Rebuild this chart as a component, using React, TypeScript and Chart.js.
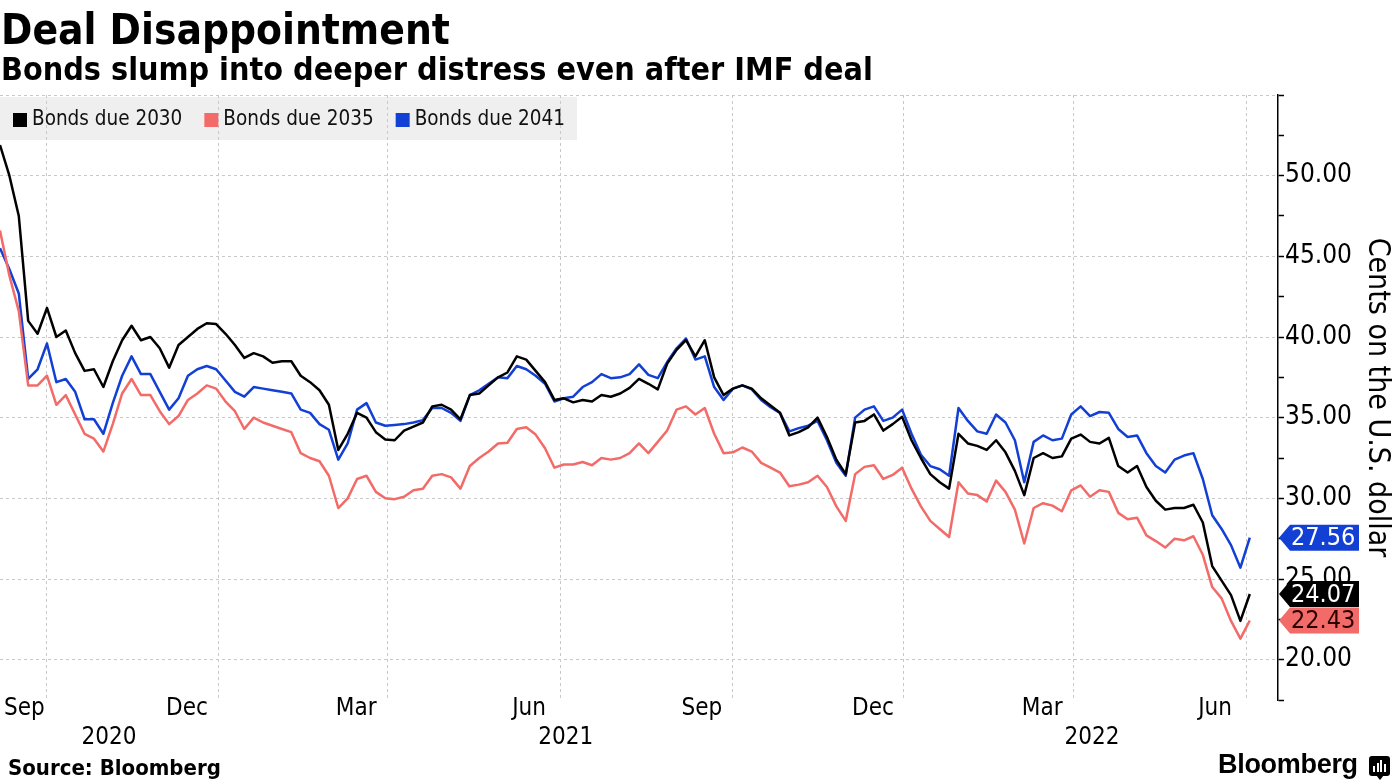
import React, { useEffect, useRef } from "react";
import { Chart, registerables } from "chart.js";
Chart.register(...registerables);

const FONT = "'DejaVu Sans Condensed', 'DejaVu Sans', sans-serif";
const W = 1395;
const H = 784;
const GRID = "#c9c9c9";

// x positions: days relative to 1 Sep 2020, one sample every 5 days
const START_DAY = -25;
const STEP_DAYS = 5;

const bonds2030 = [
  51.9, 50.0, 47.5, 41.0, 40.2, 41.8, 40.0, 40.4, 39.0, 37.9,
  38.0, 36.9, 38.5, 39.8, 40.7, 39.8, 40.0, 39.3, 38.1, 39.5,
  40.0, 40.5, 40.85, 40.8, 40.2, 39.5, 38.7, 39.0, 38.8, 38.4,
  38.5, 38.5, 37.6, 37.2, 36.7, 35.8, 33.0, 34.0, 35.3, 35.0,
  34.1, 33.65, 33.6, 34.2, 34.45, 34.7, 35.7, 35.8, 35.5, 34.9,
  36.4, 36.5, 37.0, 37.5, 37.8, 38.8, 38.6, 37.9, 37.2, 36.1,
  36.2, 35.95, 36.1, 36.0, 36.4, 36.3, 36.5, 36.85, 37.4, 37.1,
  36.75, 38.35, 39.2, 39.8, 38.8, 39.8, 37.5, 36.4, 36.8, 37.0,
  36.8, 36.2, 35.75, 35.3, 33.9, 34.1, 34.4, 35.0, 33.8, 32.4,
  31.5, 34.7, 34.8, 35.2, 34.2, 34.6, 35.05, 33.6, 32.5, 31.5,
  31.0, 30.6, 34.0, 33.4, 33.25, 33.0, 33.6, 32.85, 31.7, 30.2,
  32.5, 32.8, 32.5, 32.6, 33.7, 33.95, 33.5, 33.4, 33.75, 32.0,
  31.6, 32.0, 30.7, 29.85, 29.3, 29.4, 29.4, 29.6, 28.5, 25.8,
  24.9, 24.0, 22.4, 24.07,
];

const bonds2035 = [
  46.6, 43.8, 41.6, 37.0, 37.0, 37.6, 35.8, 36.4, 35.2, 34.0,
  33.7, 32.9, 34.6, 36.5, 37.4, 36.4, 36.4, 35.4, 34.6, 35.1,
  36.1, 36.5, 37.0, 36.8, 36.0, 35.4, 34.3, 35.0, 34.7, 34.5,
  34.3, 34.1, 32.8, 32.5, 32.3, 31.4, 29.4, 30.0, 31.2, 31.4,
  30.4, 30.0, 29.95, 30.1, 30.5, 30.6, 31.4, 31.5, 31.3, 30.6,
  32.0, 32.5, 32.9, 33.4, 33.45, 34.3, 34.4, 33.95, 33.1, 31.9,
  32.1, 32.1, 32.25, 32.05, 32.5, 32.4, 32.5, 32.8, 33.4, 32.8,
  33.5, 34.2, 35.5, 35.7, 35.2, 35.6, 34.0, 32.8, 32.85, 33.15,
  32.9, 32.2, 31.9, 31.6, 30.75, 30.85, 31.0, 31.4, 30.7, 29.5,
  28.6, 31.5, 31.95, 32.05, 31.2, 31.45, 31.9, 30.6, 29.5, 28.6,
  28.1, 27.6, 31.0, 30.3, 30.2, 29.8, 31.1, 30.4, 29.3, 27.2,
  29.4, 29.7, 29.55, 29.2, 30.5, 30.8, 30.1, 30.5, 30.4, 29.1,
  28.7, 28.8, 27.7, 27.35, 26.95, 27.5, 27.4, 27.65, 26.5, 24.5,
  23.8, 22.4, 21.3, 22.43,
];

const bonds2041 = [
  45.5, 44.2, 42.7, 37.4, 38.0, 39.6, 37.2, 37.4, 36.6, 34.9,
  34.9, 34.0, 35.9, 37.6, 38.8, 37.7, 37.7, 36.6, 35.5, 36.2,
  37.6, 38.0, 38.2, 38.0, 37.3, 36.6, 36.3, 36.9, 36.8, 36.7,
  36.6, 36.5, 35.5, 35.3, 34.6, 34.25, 32.4, 33.4, 35.5, 35.9,
  34.7, 34.5, 34.55, 34.6, 34.7, 34.85, 35.6, 35.6, 35.3, 34.8,
  36.4, 36.7, 37.1, 37.5, 37.45, 38.2, 38.0, 37.6, 37.1, 36.0,
  36.2, 36.3, 36.9, 37.2, 37.7, 37.45, 37.5, 37.7, 38.3, 37.65,
  37.45, 38.45, 39.3, 39.9, 38.6, 38.8, 36.9, 36.1, 36.8, 37.0,
  36.75, 36.1, 35.65, 35.3, 34.15, 34.35, 34.5, 34.8, 33.6, 32.2,
  31.4, 35.0, 35.5, 35.7, 34.8, 35.0, 35.5, 34.0, 32.7, 32.0,
  31.8, 31.4, 35.6, 34.8, 34.15, 34.0, 35.2, 34.7, 33.6, 31.0,
  33.5, 33.9, 33.6, 33.7, 35.2, 35.7, 35.1, 35.35, 35.3, 34.3,
  33.8, 33.9, 32.8, 32.0, 31.6, 32.4, 32.65, 32.8, 31.2, 28.95,
  28.1, 27.1, 25.7, 27.56,
];

const dayOffsets = bonds2030.map((_, i) => START_DAY + i * STEP_DAYS);

const seriesNames = ["Bonds due 2030", "Bonds due 2035", "Bonds due 2041"];
const seriesColors = ["#000000", "#f26b68", "#123fd4"];
const endLabelTextColors = ["#ffffff", "#2a0000", "#ffffff"];

// month ticks (days relative to 1 Sep 2020) and their labels
const monthTicks = [0, 91, 181, 273, 365, 456, 546, 638];
const monthLabels = ["Sep", "Dec", "Mar", "Jun", "Sep", "Dec", "Mar", "Jun"];
const yearLabels = ["2020", "2021", "2022"];
const yearLabelDays = [33, 276, 556];

const yTickValues = [17.5, 20, 22.5, 25, 27.5, 30, 32.5, 35, 37.5, 40, 42.5, 45, 47.5, 50, 52.5, 55];

export default function App() {
  const ref = useRef<HTMLCanvasElement>(null);

  useEffect(() => {
    document.body.style.margin = "0";
    const canvas = ref.current;
    if (!canvas) return;
    const series = [bonds2030, bonds2035, bonds2041];

    const overlay = {
      id: "overlay",
      beforeDraw(chart: any) {
        const ctx = chart.ctx;
        ctx.save();
        ctx.font = `20.5px ${FONT}`;
        let x = 13;
        seriesNames.forEach((n) => {
          x += 14 + 5 + ctx.measureText(n).width + 22;
        });
        const right = x - 22 + 12;
        ctx.fillStyle = "#efefef";
        ctx.fillRect(0, 97, right, 43);
        ctx.restore();
      },
      afterDraw(chart: any) {
        const ctx = chart.ctx;
        const xs = chart.scales.x;
        const ys = chart.scales.y;
        const area = chart.chartArea;
        ctx.save();
        // legend
        ctx.font = `20.5px ${FONT}`;
        ctx.textBaseline = "middle";
        ctx.textAlign = "left";
        let x = 13;
        seriesNames.forEach((n, k) => {
          ctx.fillStyle = seriesColors[k];
          ctx.fillRect(x, 113, 14, 14);
          ctx.fillStyle = "#111";
          ctx.fillText(n, x + 19, 120);
          x += 14 + 5 + ctx.measureText(n).width + 22;
        });
        // month labels
        ctx.font = `24px ${FONT}`;
        ctx.fillStyle = "#000";
        ctx.textAlign = "center";
        monthTicks.forEach((t, k) => {
          const w = ctx.measureText(monthLabels[k]).width;
          let cx = xs.getPixelForValue(t - 16.5);
          if (cx - w / 2 < 4) cx = 4 + w / 2;
          ctx.fillText(monthLabels[k], cx, 709);
        });
        yearLabels.forEach((y, k) => {
          ctx.fillText(y, xs.getPixelForValue(yearLabelDays[k]), 738);
        });
        // end value labels
        ctx.font = `25px ${FONT}`;
        ctx.textAlign = "left";
        [2, 0, 1].forEach((k) => {
          const s = series[k];
          const v = s[s.length - 1];
          const y = ys.getPixelForValue(v);
          const L = area.right + 1;
          ctx.beginPath();
          ctx.moveTo(L, y);
          ctx.lineTo(L + 11, y - 13);
          ctx.lineTo(L + 80, y - 13);
          ctx.lineTo(L + 80, y + 13);
          ctx.lineTo(L + 11, y + 13);
          ctx.closePath();
          ctx.fillStyle = seriesColors[k];
          ctx.fill();
          ctx.fillStyle = endLabelTextColors[k];
          ctx.fillText(v.toFixed(2), L + 12, y + 1);
        });
        ctx.restore();
      },
    };

    const chart = new Chart(canvas, {
      type: "line",
      data: {
        datasets: series.map((s, k) => ({
          label: seriesNames[k],
          data: s.map((v, i) => ({ x: dayOffsets[i], y: v })),
          borderColor: seriesColors[k],
          backgroundColor: seriesColors[k],
          borderWidth: 2.5,
          pointRadius: 0,
          tension: 0,
          borderJoinStyle: "round",
        })),
      },
      options: {
        responsive: false,
        animation: false,
        devicePixelRatio: 1,
        layout: { padding: { top: 95, bottom: 84, left: 0, right: 0 } },
        plugins: {
          legend: { display: false },
          tooltip: { enabled: false },
        },
        scales: {
          x: {
            type: "linear",
            min: -25,
            max: 655,
            afterBuildTicks: (s: any) => {
              s.ticks = monthTicks.map((v) => ({ value: v }));
            },
            afterFit: (s: any) => {
              s.height = 0;
            },
            ticks: { display: false },
            grid: { color: GRID, lineWidth: 1, drawTicks: false },
            border: { display: false, dash: [3, 3] },
          },
          y: {
            position: "right",
            min: 17.5,
            max: 55,
            afterBuildTicks: (s: any) => {
              s.ticks = yTickValues.map((v) => ({ value: v }));
            },
            afterFit: (s: any) => {
              s.width = 117;
            },
            ticks: {
              autoSkip: false,
              padding: 1,
              color: "#000",
              font: { family: FONT, size: 26 },
              callback: (value: any) => {
                const v = Number(value);
                return v % 5 === 0 && v >= 20 && v <= 50 ? v.toFixed(2) : "";
              },
            },
            grid: {
              color: (c: any) => (c.tick && c.tick.value % 5 === 0 ? GRID : "rgba(0,0,0,0)"),
              tickColor: "#000",
              tickLength: 6,
              tickWidth: 1.5,
              lineWidth: 1,
              drawTicks: true,
            },
            border: { display: true, color: "#000", width: 1.5, dash: [3, 3] },
            title: {
              display: true,
              text: "Cents on the U.S. dollar",
              color: "#000",
              font: { family: FONT, size: 30 },
              padding: 0,
            },
          },
        },
      },
      plugins: [overlay],
    } as any);

    return () => chart.destroy();
  }, []);

  return (
    <div
      style={{
        position: "relative",
        width: W,
        height: H,
        background: "#fff",
        overflow: "hidden",
        fontFamily: FONT,
        color: "#000",
      }}
    >
      <canvas ref={ref} width={W} height={H} style={{ position: "absolute", left: 0, top: 0, width: W, height: H }} />
      <div style={{ position: "absolute", left: 1, top: 5, fontSize: 42, fontWeight: "bold", lineHeight: "normal", whiteSpace: "nowrap" }}>
        Deal Disappointment
      </div>
      <div style={{ position: "absolute", left: 1, top: 50, fontSize: 32, fontWeight: "bold", lineHeight: "normal", whiteSpace: "nowrap" }}>
        Bonds slump into deeper distress even after IMF deal
      </div>
      <div style={{ position: "absolute", left: 8, top: 755, fontSize: 22, fontWeight: "bold", lineHeight: "normal", whiteSpace: "nowrap" }}>
        Source: Bloomberg
      </div>
      <div
        style={{
          position: "absolute",
          left: 1218,
          top: 749,
          fontSize: 27,
          fontWeight: "bold",
          fontFamily: "'Liberation Sans', Arial, sans-serif",
          lineHeight: "normal",
          whiteSpace: "nowrap",
          letterSpacing: -0.3,
        }}
      >
        Bloomberg
      </div>
      <div
        style={{
          position: "absolute",
          left: 1369,
          top: 756,
          width: 21,
          height: 20,
          background: "#000",
          borderRadius: 3,
        }}
      >
        {[6, 9, 12, 8].map((h, i) => (
          <div
            key={i}
            style={{
              position: "absolute",
              left: 4 + i * 3.5,
              bottom: 4,
              width: 2,
              height: h,
              background: "#fff",
            }}
          />
        ))}
      </div>
      <div
        style={{
          position: "absolute",
          left: 1376,
          top: 775,
          width: 0,
          height: 0,
          borderLeft: "4px solid transparent",
          borderRight: "4px solid transparent",
          borderTop: "5px solid #000",
        }}
      />
    </div>
  );
}
